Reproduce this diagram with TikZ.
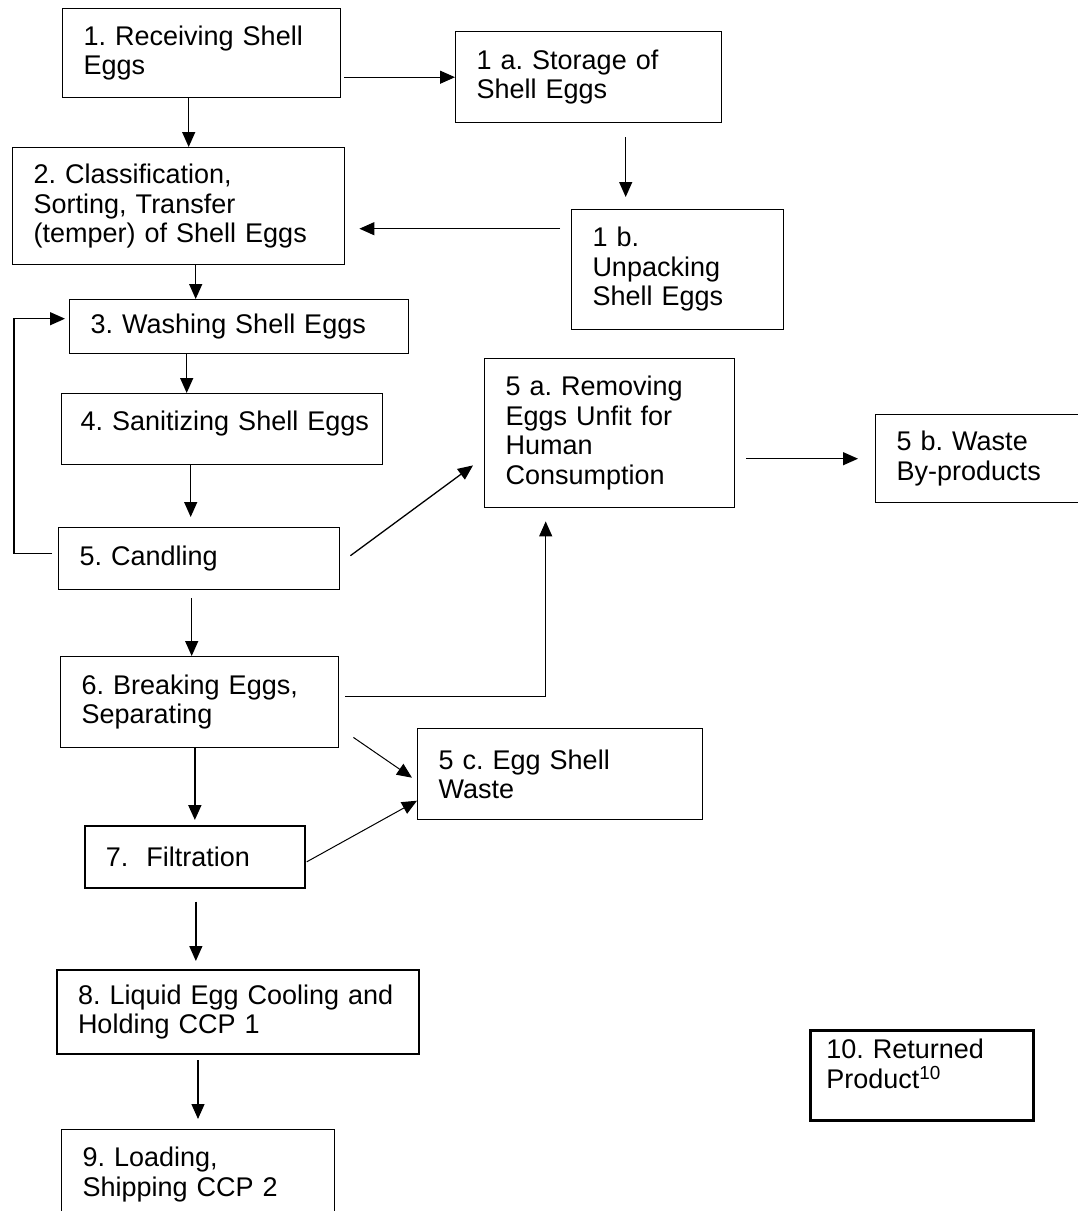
\documentclass[tikz,border=0pt]{standalone}
\usepackage{fontspec}
\setmainfont{Liberation Sans}
\usetikzlibrary{arrows.meta}
\frenchspacing
\tikzset{
  stepbox/.style={rectangle, draw=black, line width=1.4pt, anchor=north west,
                  align=left, inner xsep=21pt, inner ysep=0pt,
                  font=\fontsize{27}{29.5}\selectfont},
  arrow/.style={-{Triangle[length=15pt, width=13pt]}, line width=1.3pt, draw=black},
}
\begin{document}
\begin{tikzpicture}[x=1pt, y=-1pt]
  \useasboundingbox (0,0) rectangle (1078,1211);

  % Main line
  \node[stepbox, minimum width=278pt, minimum height=89pt, text width=236pt]
    (rcv) at (62,8) {1. Receiving Shell\\Eggs};
  \node[stepbox, minimum width=332pt, minimum height=117pt, text width=290pt]
    (cls) at (12,147) {2. Classification,\\Sorting, Transfer\\(temper) of Shell Eggs};
  \node[stepbox, minimum width=339pt, minimum height=54pt, text width=297pt]
    (wash) at (69,299) {3. Washing Shell Eggs};
  \node[stepbox, minimum width=321pt, minimum height=71pt, text width=283pt,
        inner xsep=19pt, text depth=17pt]
    (sani) at (61,393) {\mbox{4. Sanitizing Shell Eggs}};
  \node[stepbox, minimum width=281pt, minimum height=62pt, text width=239pt]
    (cand) at (58,527) {5. Candling};
  \node[stepbox, minimum width=278pt, minimum height=91pt, text width=236pt]
    (brk) at (60,656) {6. Breaking Eggs,\\Separating};
  \node[stepbox, line width=1.7pt, minimum width=220pt, minimum height=62pt,
        text width=178pt]
    (filt) at (84,825) {7.\ \ Filtration};
  \node[stepbox, line width=2pt, minimum width=362pt, minimum height=84pt,
        text width=320pt]
    (cool) at (56,969) {8. Liquid Egg Cooling and\\Holding CCP 1};
  \node[stepbox, line width=1pt, minimum width=273pt, minimum height=90pt,
        text width=231pt]
    (load) at (61,1129) {9. Loading,\\Shipping CCP 2};

  % Side steps
  \node[stepbox, minimum width=266pt, minimum height=91pt, text width=224pt]
    (store) at (455,31) {1 a. Storage of\\Shell Eggs};
  \node[stepbox, line width=1pt, minimum width=212pt, minimum height=120pt,
        text width=170pt]
    (unpack) at (571,209) {1 b.\\Unpacking\\Shell Eggs};
  \node[stepbox, minimum width=250pt, minimum height=149pt, text width=208pt]
    (remove) at (484,358) {5 a. Removing\\Eggs Unfit for\\Human\\Consumption};
  \node[stepbox, minimum width=220pt, minimum height=88pt, text width=178pt]
    (waste) at (875,414) {5 b. Waste\\By-products};
  \node[stepbox, minimum width=285pt, minimum height=91pt, text width=243pt]
    (shell) at (417,728) {5 c. Egg Shell\\Waste};
  \node[stepbox, line width=2.7pt, minimum width=223pt, minimum height=90pt,
        text width=191pt, inner xsep=16pt, text depth=53pt]
    (ret) at (809,1029) {10. Returned\\Product\textsuperscript{10}};

  % Arrows
  \draw[arrow, shorten <=3pt] (rcv.east |- store.west) -- (store.west);
  \draw[arrow] ([xshift=-13pt]rcv.south) -- ([xshift=-13pt]rcv.south |- cls.north);
  \draw[arrow, shorten <=14pt, shorten >=12pt]
    ([xshift=37pt]store.south) -- ([xshift=37pt]store.south |- unpack.north);
  \draw[arrow, shorten <=11pt, shorten >=14pt]
    ([yshift=-22.5pt]cls.east -| unpack.west) -- ([yshift=-22.5pt]cls.east);
  \draw[arrow] ([xshift=17pt]cls.south) -- ([xshift=17pt]cls.south |- wash.north);
  \draw[arrow] ([xshift=-52.5pt]wash.south) -- ([xshift=-52.5pt]wash.south |- sani.north);
  \draw[arrow, shorten >=10pt]
    ([xshift=-31.5pt]sani.south) -- ([xshift=-31.5pt]sani.south |- cand.north);
  \draw[arrow, shorten <=6pt, shorten >=4pt]
    ([yshift=5pt]cand.west) -- ++(-44,0) |- ([yshift=8pt]wash.west);
  \draw[arrow] ([shift={(10pt,3pt)}]cand.east) -- ([shift={(-11pt,43pt)}]remove.south west);
  \draw[arrow, shorten <=11pt, shorten >=17pt] (remove.east |- waste.west) -- (waste.west);
  \draw[arrow, shorten <=8pt]
    ([xshift=-7.5pt]cand.south) -- ([xshift=-7.5pt]cand.south |- brk.north);
  \draw[arrow, shorten <=6pt, shorten >=13pt]
    ([yshift=5.5pt]brk.east) -| ([xshift=-64pt]remove.south);
  \draw[arrow, line width=1pt]
    ([shift={(14pt,11pt)}]brk.south east) -- ([shift={(-5pt,-3.5pt)}]shell.west);
  \draw[arrow, line width=1.8pt, shorten >=5pt] (brk.south -| filt.north) -- (filt.north);
  \draw[arrow, line width=1pt] ([shift={(1pt,-5pt)}]filt.east) -- ([yshift=-26.5pt]shell.west);
  \draw[arrow, shorten <=13pt, shorten >=8pt]
    ([xshift=1pt]filt.south) -- ([xshift=1pt]filt.south |- cool.north);
  \draw[arrow, shorten <=5pt, shorten >=10pt] (cool.south -| load.north) -- (load.north);
\end{tikzpicture}
\end{document}
